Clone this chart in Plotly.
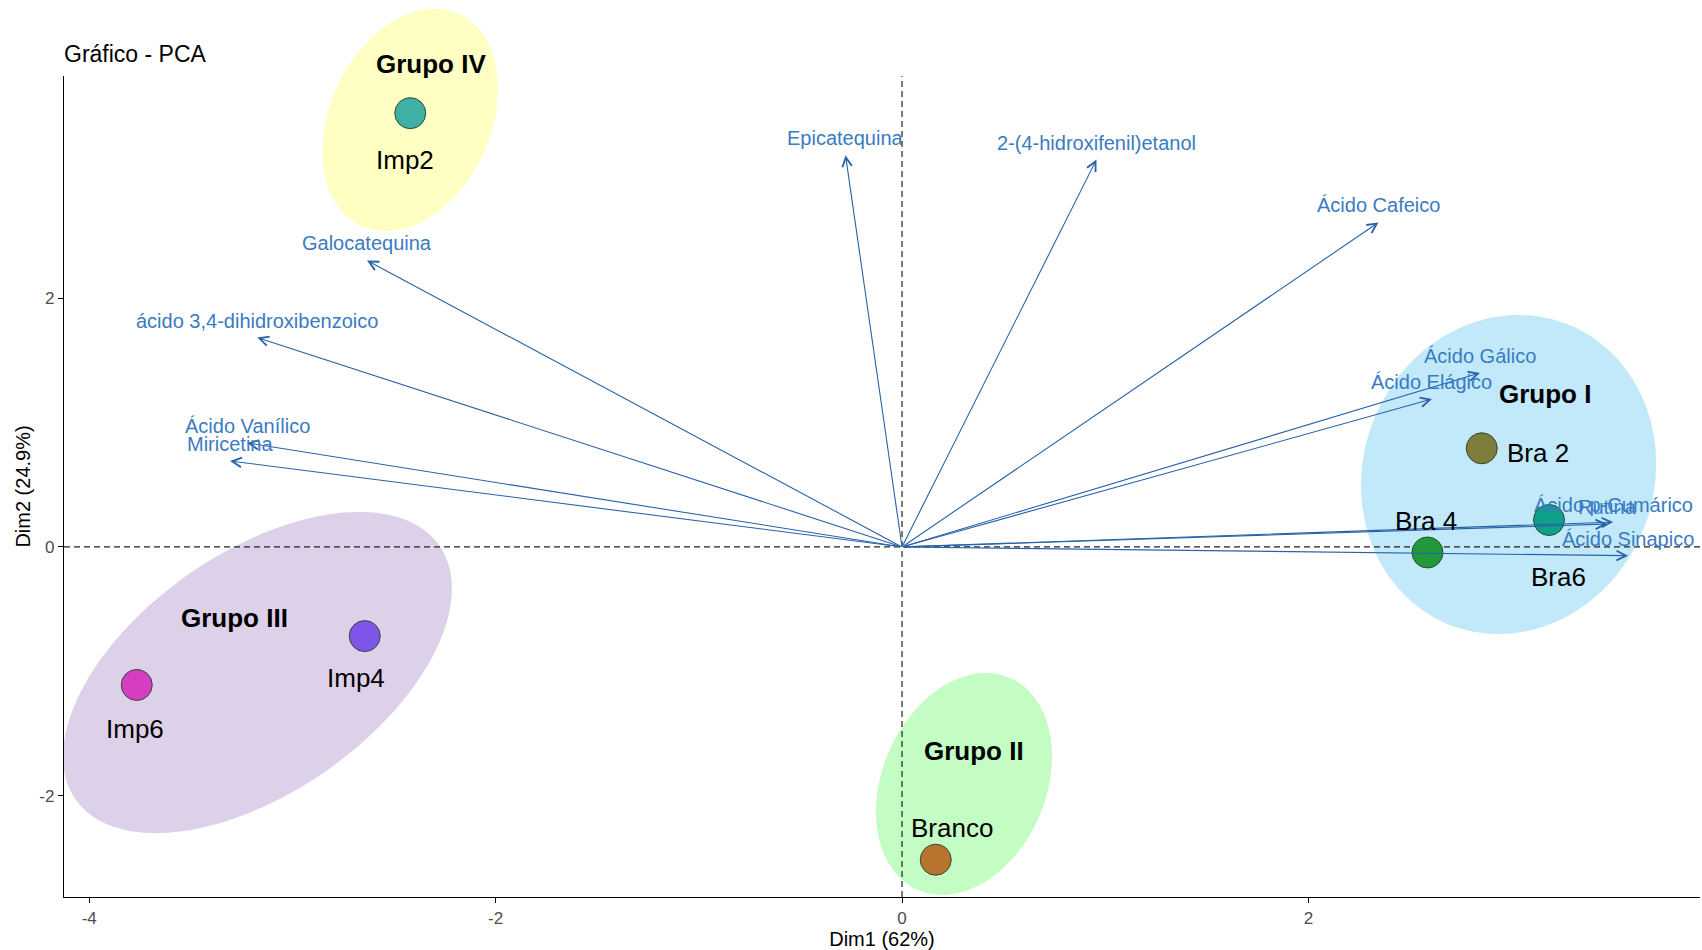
import numpy as np
import plotly.graph_objects as go

# ---- individuals (PCA scores) ----
samples = ["Imp2", "Imp4", "Imp6", "Branco", "Bra 2", "Bra 4", "Bra6"]
dim1 = [-2.42, -2.644, -3.766, 0.166, 2.853, 2.586, 3.184]
dim2 = [3.49, -0.717, -1.11, -2.516, 0.794, -0.044, 0.217]

# ---- variables (loadings drawn as arrows) ----
variables = ["Epicatequina", "2-(4-hidroxifenil)etanol", "Ácido Cafeico", "Galocatequina",
             "ácido 3,4-dihidroxibenzoico", "Ácido Vanílico", "Miricetina", "Ácido Gálico",
             "Ácido Elágico", "Ácido p-Cumárico", "Rutina", "Ácido Sinapico"]
var_dim1 = [-0.278, 0.957, 2.345, -2.633, -3.173, -3.223, -3.307, 2.844, 2.608, 3.50, 3.47, 3.573]
var_dim2 = [3.152, 3.117, 2.611, 2.305, 1.685, 0.837, 0.692, 1.40, 1.19, 0.20, 0.185, -0.07]

# ---- groups ----
groups = ["Grupo I", "Grupo II", "Grupo III", "Grupo IV"]
group_label_x = [3.164, 0.354, -3.287, -2.318]
group_label_y = [1.231, -1.641, -0.571, 3.886]

# axis ticks
x_ticks = [-4, -2, 0, 2]
x_ticktext = ["-4", "-2", "0", "2"]
y_ticks = [-2, 0, 2]
y_ticktext = ["-2", "0", "2"]

# ---- styling ----
W, H = 1702, 950
M = dict(l=64, r=2, t=76, b=53)
XR = [-4.124, 3.927]
YR = [-2.816, 3.789]
FONT = "Liberation Sans, Arial, sans-serif"
sample_colors = ["#40B0A6", "#7D55E8", "#D63DC2", "#B8732F", "#7F7D3A", "#21993A", "#0FA08C"]
label_shift = [(-5, -47), (-9, -42), (-2, -44), (16, 32), (56, -5), (-2, 31), (9, -57)]
arrow_color = "#2862A8"
var_text_color = "#3A7BC2"

# group ellipses: centre (data units), semi-axes (px), tilt (deg), fill
ell_cx = [2.985, 0.305, -3.172, -2.42]
ell_cy = [0.583, -1.907, -1.01, 3.435]
ell_a = [161.4, 115.6, 221.8, 116.8]
ell_b = [145.5, 81.8, 120.0, 80.4]
ell_ang = [69.5, 66.6, 34.9, 65.3]
ell_fill = ["#C1E9F9", "#C3FDC3", "#DDD0E9", "#FFFFC4"]

plot_w = W - M["l"] - M["r"]
plot_h = H - M["t"] - M["b"]
sx = plot_w / (XR[1] - XR[0])
sy = plot_h / (YR[1] - YR[0])


def to_paper_x(x):
    return (np.asarray(x) - XR[0]) / (XR[1] - XR[0])


def to_paper_y(y):
    return (np.asarray(y) - YR[0]) / (YR[1] - YR[0])


def ellipse_path(cx, cy, a, b, ang, n=160):
    t = np.linspace(0, 2 * np.pi, n)
    phi = np.deg2rad(ang)
    px = a * np.cos(t) * np.cos(phi) - b * np.sin(t) * np.sin(phi)
    py = a * np.cos(t) * np.sin(phi) + b * np.sin(t) * np.cos(phi)
    xp = to_paper_x(cx + px / sx)
    yp = to_paper_y(cy + py / sy)
    pts = [f"{x:.5f},{y:.5f}" for x, y in zip(xp, yp)]
    return "M" + " L".join(pts) + " Z"


shapes = []
for cx, cy, a, b, ang, col in zip(ell_cx, ell_cy, ell_a, ell_b, ell_ang, ell_fill):
    shapes.append(dict(type="path", path=ellipse_path(cx, cy, a, b, ang), xref="paper", yref="paper",
                       fillcolor=col, line=dict(width=0), layer="below"))

# reference lines through the origin
shapes.append(dict(type="line", xref="x", yref="paper", x0=0, x1=0, y0=0, y1=1,
                   line=dict(color="#222222", width=1.2, dash="6px,4px"), layer="below"))
shapes.append(dict(type="line", xref="paper", yref="y", x0=0, x1=1, y0=0, y1=0,
                   line=dict(color="#222222", width=1.2, dash="6px,4px"), layer="below"))

fig = go.Figure()
fig.add_trace(go.Scatter(
    x=dim1, y=dim2, mode="markers",
    marker=dict(size=31, color=sample_colors, line=dict(color="#2F4A2F", width=1)),
    hovertext=samples, showlegend=False, cliponaxis=False,
))

annotations = []
# variable arrows
for name, vx, vy in zip(variables, var_dim1, var_dim2):
    annotations.append(dict(x=vx, y=vy, ax=0, ay=0, xref="x", yref="y", axref="x", ayref="y",
                            text="", showarrow=True, arrowhead=5, arrowsize=1.7, arrowwidth=1.1,
                            arrowcolor=arrow_color, standoff=0, startstandoff=0))
for name, vx, vy in zip(variables, var_dim1, var_dim2):
    annotations.append(dict(x=vx, y=vy, xref="x", yref="y", text=name, showarrow=False,
                            xanchor="center", yanchor="middle", yshift=17,
                            font=dict(family=FONT, size=20, color=var_text_color)))

# sample labels
for name, x, y, (dx, dy) in zip(samples, dim1, dim2, label_shift):
    annotations.append(dict(x=x, y=y, xref="x", yref="y", text=name, showarrow=False,
                            xanchor="center", yanchor="middle", xshift=dx, yshift=dy,
                            font=dict(family=FONT, size=26, color="black")))

# group labels (paper-referenced so labels above the panel stay visible)
for name, gx, gy in zip(groups, group_label_x, group_label_y):
    annotations.append(dict(x=float(to_paper_x(gx)), y=float(to_paper_y(gy)), xref="paper", yref="paper",
                            xanchor="center", yanchor="middle",
                            text=f"<b>{name}</b>", showarrow=False,
                            font=dict(family=FONT, size=26, color="black")))

axis_common = dict(showgrid=False, zeroline=False, showline=True, linecolor="black", linewidth=1.3,
                   ticks="outside", ticklen=5, tickcolor="black", tickwidth=1.2,
                   tickfont=dict(family=FONT, size=17, color="#4D4D4D"))

fig.update_layout(
    width=W, height=H, margin=M,
    paper_bgcolor="white", plot_bgcolor="white",
    shapes=shapes, annotations=annotations,
    title=dict(text="Gráfico - PCA", x=0, xref="paper", xanchor="left",
               y=1 - 54 / H, yref="container", yanchor="middle",
               font=dict(family=FONT, size=23, color="black")),
    xaxis=dict(range=XR, tickvals=x_ticks, ticktext=x_ticktext,
               title=dict(text="Dim1 (62%)", standoff=3, font=dict(family=FONT, size=20, color="black")),
               **axis_common),
    yaxis=dict(range=YR, tickvals=y_ticks, ticktext=y_ticktext,
               title=dict(text="Dim2 (24.9%)", standoff=3, font=dict(family=FONT, size=20, color="black")),
               **axis_common),
)

fig.write_html("out.html")
